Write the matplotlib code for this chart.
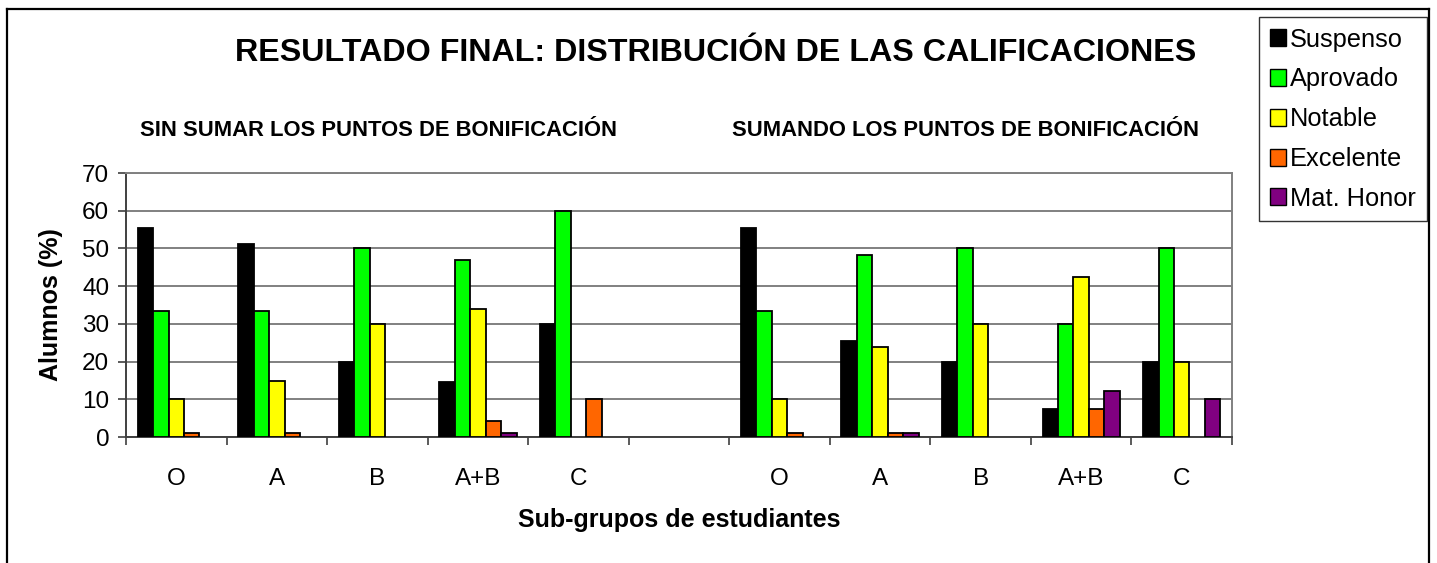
import numpy as np
import matplotlib
matplotlib.use("Agg")
import matplotlib.pyplot as plt
from matplotlib.lines import Line2D
from matplotlib.patches import Patch
from matplotlib.ticker import FixedLocator

plt.rcParams['font.family'] = ['Liberation Sans', 'DejaVu Sans']

categories = ['O', 'A', 'B', 'A+B', 'C', '', 'O', 'A', 'B', 'A+B', 'C']
series_names = ['Suspenso', 'Aprovado', 'Notable', 'Excelente', 'Mat. Honor']
suspenso = [55.3, 51.1, 20, 14.5, 30, 0, 55.3, 25.5, 20, 7.5, 20]
aprovado = [33.3, 33.3, 50, 46.8, 60, 0, 33.3, 48.3, 50, 30, 50]
notable = [10, 14.9, 30, 34.0, 0, 0, 10, 23.8, 30, 42.4, 20]
excelente = [1.1, 1.1, 0, 4.3, 10, 0, 1.1, 1.1, 0, 7.5, 0]
mat_honor = [0, 0, 0, 1.1, 0, 0, 0, 1.1, 0, 12.3, 10]
colors = ['#000000', '#00FF00', '#FFFF00', '#FF6600', '#800080']

W, H = 1437, 563
fig = plt.figure(figsize=(W / 100, H / 100), dpi=100)
fig.patch.set_facecolor('white')

def fx(px):
    return px / W

def fy(py):
    return 1 - py / H

ax = fig.add_axes([fx(126), fy(437), fx(1232) - fx(126), fy(173) - fy(437)])

data = [suspenso, aprovado, notable, excelente, mat_honor]
n = len(categories)
x = np.arange(n)
bw = 1 / 6.5
for i, (vals, c, name) in enumerate(zip(data, colors, series_names)):
    offs = (i - 2) * bw
    bars = ax.bar(x + offs, vals, width=bw, color=c, edgecolor='black', linewidth=1.3,
                  zorder=3)
    for b in bars:
        if b.get_height() == 0:
            b.set_visible(False)

ax.set_xlim(-0.5, n - 0.5)
ax.set_ylim(0, 70)
ax.set_yticks(np.arange(0, 71, 10))
ax.yaxis.grid(True, color='#808080', linewidth=1.4, zorder=0)
ax.set_axisbelow(True)

ax.set_xticks(x)
ax.set_xticklabels(categories, fontsize=17.5)
ax.xaxis.set_minor_locator(FixedLocator(np.arange(-0.5, n, 1.0)))
ax.tick_params(axis='x', which='major', length=0, pad=22)
ax.tick_params(axis='x', which='minor', length=6, width=1.2, color='#404040', direction='out')
ax.tick_params(axis='y', length=6, width=1.2, color='#404040', labelsize=17.5, pad=6)

for s in ['left', 'bottom']:
    ax.spines[s].set_color('#404040')
    ax.spines[s].set_linewidth(1.4)
for s in ['top', 'right']:
    ax.spines[s].set_color('#808080')
    ax.spines[s].set_linewidth(1.4)

ax.set_ylabel('Alumnos (%)', fontsize=18, fontweight='bold', labelpad=14)
ax.set_xlabel('Sub-grupos de estudiantes', fontsize=18, fontweight='bold', labelpad=13)

fig.text(fx(716), fy(53), 'RESULTADO FINAL: DISTRIBUCIÓN DE LAS CALIFICACIONES',
         fontsize=23.2, fontweight='bold', ha='center', va='center')
fig.text(fx(379), fy(131), 'SIN SUMAR LOS PUNTOS DE BONIFICACIÓN',
         fontsize=15.8, fontweight='bold', ha='center', va='center')
fig.text(fx(966), fy(131), 'SUMANDO LOS PUNTOS DE BONIFICACIÓN',
         fontsize=15.8, fontweight='bold', ha='center', va='center')

handles = [Patch(facecolor=c, edgecolor='black', linewidth=1.0) for c in colors]
leg = fig.legend(handles, series_names, loc='upper left', bbox_to_anchor=(fx(1259), fy(17)),
                 bbox_transform=fig.transFigure, fontsize=18.3, frameon=True,
                 fancybox=False, edgecolor='black', handlelength=0.65,
                 handleheight=0.65, handletextpad=0.15, labelspacing=0.62,
                 borderpad=0.42, borderaxespad=0)
leg.get_frame().set_linewidth(1.0)

# outer chart border
for xs, ys in [([fx(7), fx(7)], [0, fy(9)]),
               ([fx(7), fx(1429)], [fy(9), fy(9)]),
               ([fx(1429), fx(1429)], [fy(9), 0])]:
    fig.add_artist(Line2D(xs, ys, color='black', linewidth=1.6, transform=fig.transFigure))

fig.savefig('out.png', dpi=100)
